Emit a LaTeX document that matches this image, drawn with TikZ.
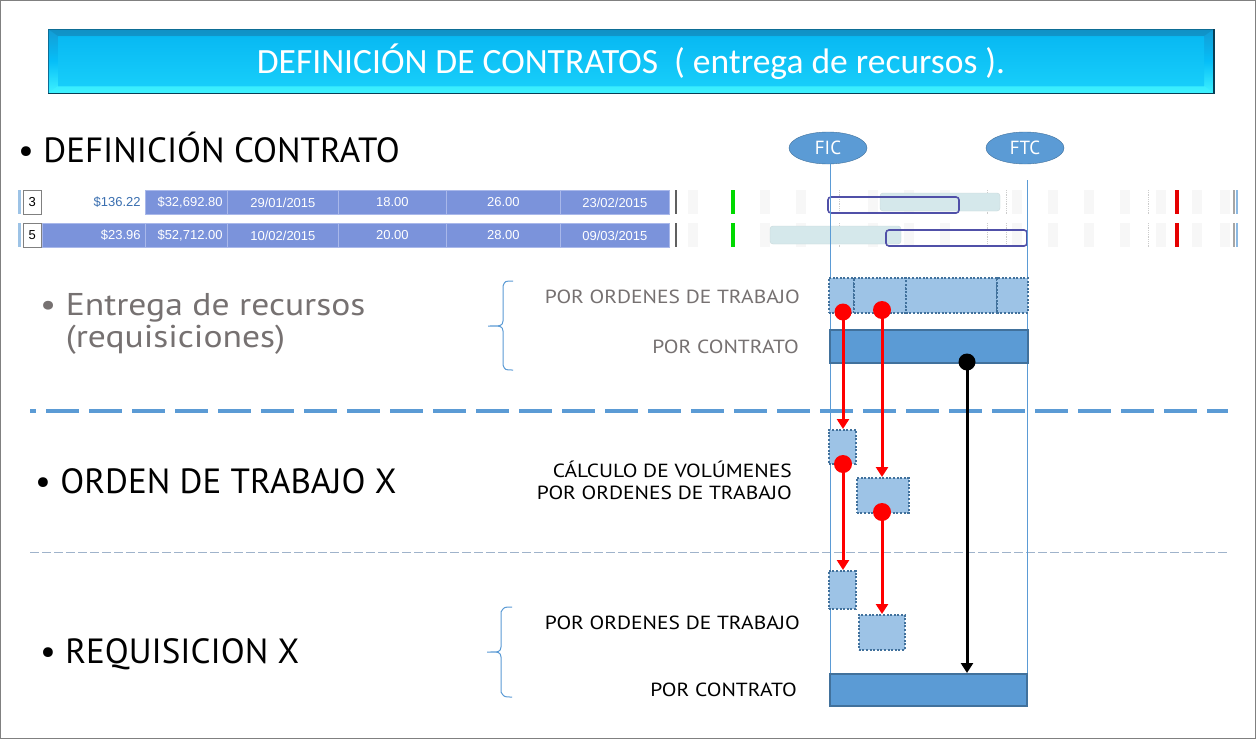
\documentclass[tikz,border=0pt]{standalone}
\usepackage{fontspec}
\setmainfont{PT Sans}
\newfontfamily\titlefont{Carlito}
\newfontfamily\tablefont{Liberation Sans}
\newfontfamily\widefont{PT Sans}[FakeStretch=1.13]
\usetikzlibrary{arrows.meta,shapes.geometric}

\definecolor{accent}{HTML}{5B9BD5}
\definecolor{darkblue}{HTML}{41719C}
\definecolor{lightbox}{HTML}{9DC3E6}
\definecolor{graytext}{HTML}{767171}
\definecolor{tableblue}{HTML}{7B93DB}
\definecolor{tablesep}{HTML}{A9B8EA}
\definecolor{moneyblue}{HTML}{3A6FB0}
\definecolor{ganttteal}{HTML}{D5E8EB}
\definecolor{ganttnavy}{HTML}{5050A8}
\definecolor{stripe}{HTML}{F7F7F7}
\definecolor{titletop}{HTML}{139CD5}
\definecolor{titlemid}{HTML}{06BEF8}
\definecolor{titlebot}{HTML}{3EF2FF}
\definecolor{thindash}{HTML}{9FB3CB}

\begin{document}
\begin{tikzpicture}[x=1pt,y=-1pt,
  dotbox/.style={draw=darkblue, fill=lightbox, dash pattern=on 2pt off 1.6pt, line width=1.6pt,
    inner sep=0pt, anchor=north west},
  solidbar/.style={draw=darkblue, fill=accent, line width=1.8pt,
    inner sep=0pt, anchor=north west},
  reddot/.style={circle, fill=red, inner sep=0pt, minimum size=17pt},
  blackdot/.style={circle, fill=black, inner sep=0pt, minimum size=17pt},
  redarrow/.style={draw=red, line width=3pt, -{Triangle[length=10pt,width=12pt]}},
  blackarrow/.style={draw=black, line width=3pt, -{Triangle[length=10pt,width=12pt]}},
  marker/.style={ellipse, draw=darkblue, fill=accent, text=white, inner sep=0pt,
    minimum width=78pt, minimum height=32pt, font=\fontsize{19}{20}\selectfont},
  timeline/.style={draw=accent, line width=1pt},
  cell/.style={draw=tablesep, line width=0.8pt, fill=tableblue, inner sep=0pt,
    anchor=north west, minimum height=24pt},
  celltext/.style={text=white, inner sep=0pt, font=\tablefont\fontsize{13}{14}\selectfont},
  rownum/.style={draw=gray, fill=white, inner sep=0pt, anchor=north west,
    minimum width=18pt, minimum height=24pt, font=\tablefont\fontsize{13}{14}\selectfont},
  sidelabel/.style={anchor=base east, inner sep=0pt, font=\widefont\fontsize{19}{20}\selectfont},
  heading/.style={anchor=base west, inner sep=0pt, font=\fontsize{35}{38}\selectfont},
  brace/.style={draw=accent, line width=1pt}
]
\useasboundingbox (0,0) rectangle (1256,739);
\fill[white] (0,0) rectangle (1256,739);
\draw[gray, line width=1.2pt] (0.6,0.6) rectangle (1255.4,738.4);

% ---------- title banner ----------
\shade[top color=titletop, bottom color=titlebot, middle color=titlemid] (48,29) rectangle (1214,93);
\shade[top color=titlemid!85!titletop, bottom color=titlemid!70!titlebot] (58,36) rectangle (1204,86);
\fill[titletop!80!black, opacity=0.35] (48,29) -- (1214,29) -- (1204,36) -- (58,36) -- cycle;
\fill[titlebot, opacity=0.6] (48,93) -- (1214,93) -- (1204,86) -- (58,86) -- cycle;
\draw[titletop!70!black, line width=1pt] (48,29) rectangle (1214,93);
\draw[black!60!titletop, line width=1.5pt] (48,93.5) -- (1214,93.5) -- (1214,29);
\node[text=white, inner sep=0pt, font=\titlefont\fontsize{35.5}{38}\selectfont] (title) at (631,62)
  {DEFINICIÓN DE CONTRATOS\ \ ( entrega de recursos ).};

% ---------- section headings ----------
\node[heading] (hdef) at (18,162) {• DEFINICIÓN CONTRATO};
\node[heading, text=graytext, align=left, font=\widefont\fontsize{31.5}{32}\selectfont, anchor=north west]
  (hent) at (40,293) {• Entrega de recursos\\\hphantom{• }(requisiciones)};
\node[heading] (hot) at (35,493) {• ORDEN DE TRABAJO X};
\node[heading] (hreq) at (40,663) {• REQUISICION X};

% ---------- separators ----------
\draw[accent, line width=4pt, dash pattern=on 33pt off 10pt, dash phase=27pt] (30,411) -- (1228,411);
\draw[thindash, line width=1pt, dash pattern=on 9pt off 3pt] (30,552.5) -- (1228,552.5);

% ---------- task table ----------
% row 1
\fill[lightbox] (18,190) rectangle (21,214);
\node[rownum] (n1) at (23,190) {3};
\node[cell, fill=white, draw=white, minimum width=103pt] (a1) at (42,190) {};
\node[cell, minimum width=82pt]  (b1) at (145,190) {};
\node[cell, minimum width=111pt] (c1) at (227,190) {};
\node[cell, minimum width=108pt] (d1) at (338,190) {};
\node[cell, minimum width=114pt] (e1) at (446,190) {};
\node[cell, minimum width=109pt] (f1) at (560,190) {};
\node[celltext, text=moneyblue, anchor=east] at ([xshift=-5pt]a1.east) {\$136.22};
\node[celltext, anchor=east] at ([xshift=-5pt]b1.east) {\$32,692.80};
\node[celltext] at (c1.center) {29/01/2015};
\node[celltext] at (d1.center) {18.00};
\node[celltext] at (e1.center) {26.00};
\node[celltext] at (f1.center) {23/02/2015};
% row 2
\fill[lightbox] (18,223) rectangle (21,247);
\node[rownum] (n2) at (23,223) {5};
\node[cell, minimum width=103pt] (a2) at (42,223) {};
\node[cell, minimum width=82pt]  (b2) at (145,223) {};
\node[cell, minimum width=111pt] (c2) at (227,223) {};
\node[cell, minimum width=108pt] (d2) at (338,223) {};
\node[cell, minimum width=114pt] (e2) at (446,223) {};
\node[cell, minimum width=109pt] (f2) at (560,223) {};
\node[celltext, anchor=east] at ([xshift=-5pt]a2.east) {\$23.96};
\node[celltext, anchor=east] at ([xshift=-5pt]b2.east) {\$52,712.00};
\node[celltext] at (c2.center) {10/02/2015};
\node[celltext] at (d2.center) {20.00};
\node[celltext] at (e2.center) {28.00};
\node[celltext] at (f2.center) {09/03/2015};

% ---------- gantt strip ----------
\foreach \y in {190,223}{
  \foreach \x in {688,760,796,868,904,940,1012,1048,1084,1120,1156,1192,1220}
    \fill[stripe] (\x,\y) rectangle (\x+10,\y+24);
  \foreach \x in {839,987,1006,1148}
    \draw[gray!40, densely dotted, line width=0.8pt] (\x,\y) -- (\x,\y+24);
  \fill[gray!75!black] (675,\y) rectangle (677,\y+24);
  \fill[green!85!black] (731,\y) rectangle (735,\y+24);
  \fill[red!90!black] (1175,\y) rectangle (1179,\y+24);
  \fill[gray!70] (1233,\y) rectangle (1235,\y+24);
  \fill[accent!70] (1236,\y) rectangle (1238,\y+24);
}
\draw[ganttteal!85!gray, fill=ganttteal, rounded corners=3pt] (880,193) rectangle (1000,211);
\draw[ganttnavy, line width=1.6pt, rounded corners=3pt] (828,197) rectangle (959,213);
\draw[ganttteal!85!gray, fill=ganttteal, rounded corners=3pt] (770,226) rectangle (901,244);
\draw[ganttnavy, line width=1.6pt, rounded corners=3pt] (886,230) rectangle (1027,246);

% ---------- start / end markers and their time lines ----------
\node[marker] (fic) at (828,148) {FIC};
\node[marker] (ftc) at (1025,148) {FTC};
\coordinate (ftctop) at (1027,180);
\coordinate (ficend) at (830,705);
\coordinate (ftcend) at (1027,705);
\draw[timeline] (fic.south -| ficend) -- (ficend);
\draw[timeline] (ftctop) -- (ftcend);

% ---------- delivery blocks ----------
\node[dotbox, minimum width=25pt, minimum height=35pt] (w1) at (828,277) {};
\node[dotbox, minimum width=52pt, minimum height=35pt] (w2) at (853,277) {};
\node[dotbox, minimum width=91pt, minimum height=35pt] (w3) at (905,277) {};
\node[dotbox, minimum width=31pt, minimum height=35pt] (w4) at (996,277) {};
\node[solidbar, minimum width=198pt, minimum height=33pt] (contract) at (829,329) {};

\node[dotbox, minimum width=27pt, minimum height=34pt] (va) at (828,429) {};
\node[dotbox, minimum width=52pt, minimum height=35pt] (vb) at (856,477) {};
\node[dotbox, minimum width=27pt, minimum height=38pt] (ra) at (828,570) {};
\node[dotbox, minimum width=46pt, minimum height=35pt] (rb) at (858,614) {};
\node[solidbar, minimum width=197pt, minimum height=32pt] (rcontract) at (829,673) {};

% ---------- connectors ----------
\coordinate (p1) at (843,312);
\coordinate (p2) at (882,310);
\coordinate (p3) at (843,464);
\coordinate (p4) at (882,512);
\coordinate (p5) at (967,362);
\draw[redarrow] (p1) -- (p1 |- va.north);
\draw[redarrow] (p2) -- (p2 |- vb.north);
\draw[redarrow] (p3) -- (p3 |- ra.north);
\draw[redarrow] (p4) -- (p4 |- rb.north);
\draw[blackarrow] (p5) -- (p5 |- rcontract.north);
\node[reddot] (d1) at (p1) {};
\node[reddot, minimum size=18pt] (d2) at (p2) {};
\node[reddot, minimum size=18pt] (d3) at (p3) {};
\node[reddot, minimum size=18pt] (d4) at (p4) {};
\node[blackdot] (d5) at (p5) {};

% ---------- side labels ----------
\node[sidelabel, text=graytext] (l1) at (800,303) {POR ORDENES DE TRABAJO};
\node[sidelabel, text=graytext] (l2) at (799,353) {POR CONTRATO};
\node[sidelabel] (l3) at (792,477) {CÁLCULO DE VOLÚMENES};
\node[sidelabel] (l4) at (792,499) {POR ORDENES DE TRABAJO};
\node[sidelabel] (l5) at (800,629) {POR ORDENES DE TRABAJO};
\node[sidelabel] (l6) at (797,696) {POR CONTRATO};

% ---------- braces ----------
\draw[brace] (513,281) .. controls (505,281) .. (503,286) -- (503,321)
  .. controls (502,326) .. (488,326) .. controls (502,326) .. (503,331) -- (503,365)
  .. controls (505,370) .. (513,370);
\draw[brace] (512,607) .. controls (504,607) .. (501,612) -- (501,647)
  .. controls (500,652) .. (487,652) .. controls (500,652) .. (501,657) -- (501,692)
  .. controls (504,697) .. (512,697);
\end{tikzpicture}
\end{document}
